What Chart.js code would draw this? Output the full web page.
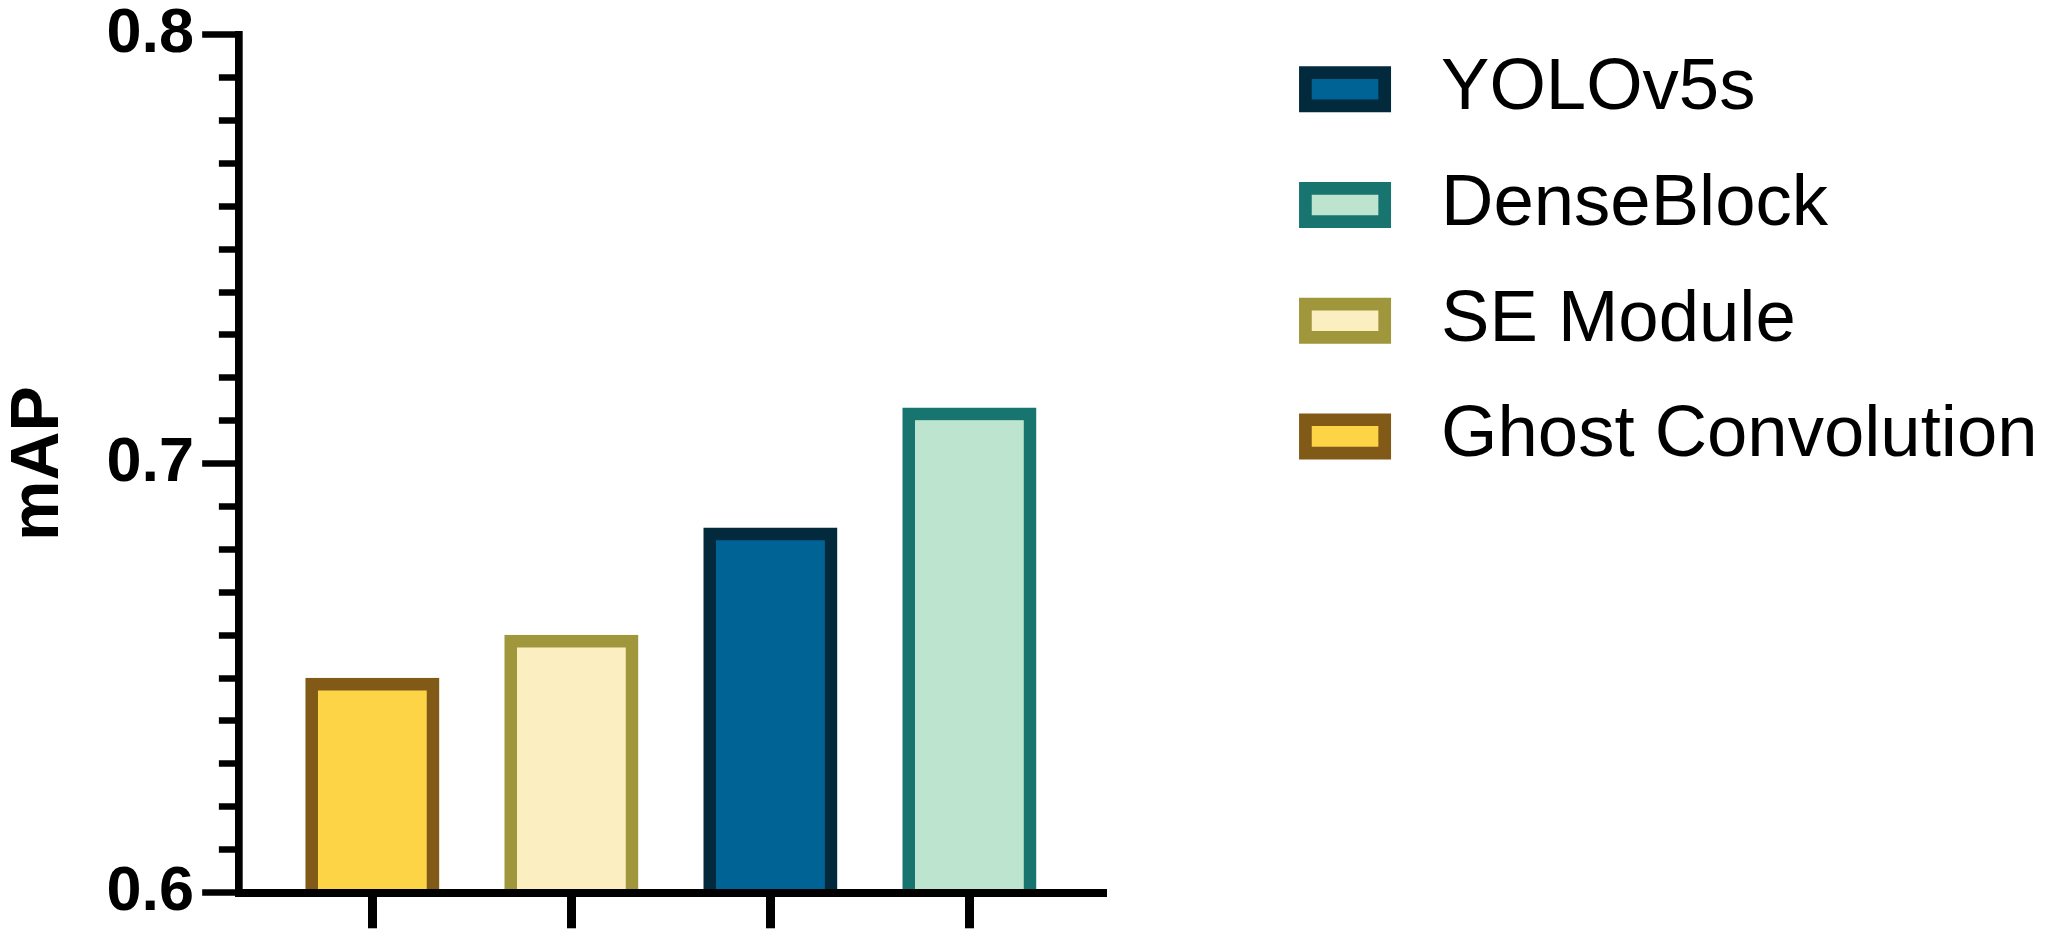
<!DOCTYPE html>
<html>
<head>
<meta charset="utf-8">
<script src="https://cdn.jsdelivr.net/npm/chart.js@4.4.1/dist/chart.umd.min.js"></script>
<style>
  html, body { margin: 0; padding: 0; background: #fff; }
  canvas { display: block; }
</style>
</head>
<body>
<canvas id="mapChart" width="2046" height="940"></canvas>
<script>
// legend order
const models = ['YOLOv5s', 'DenseBlock', 'SE Module', 'Ghost Convolution']
const mapValues = [0.685, 0.713, 0.660, 0.650]
// left-to-right order of the bars
const barOrder = ['Ghost Convolution', 'SE Module', 'YOLOv5s', 'DenseBlock']
const fillColors = ['#006396', '#BDE4CF', '#FBEFC2', '#FDD446']
const edgeColors = ['#022A3C', '#18746E', '#A0963C', '#815A18']
const yMajorTicks = [0.6, 0.7, 0.8]
const yMinorStep = 0.01

const FONT = "'Liberation Sans', Arial, sans-serif"
const BORDER = 12.7

const isMajor = v => yMajorTicks.some(m => Math.abs(m - v) < 1e-6)

var yTicks = []
const yMin = yMajorTicks[0], yMax = yMajorTicks[yMajorTicks.length - 1]
const nSteps = Math.round((yMax - yMin) / yMinorStep)
for (let i = 0; i <= nSteps; i++) {
    yTicks.push(Math.round((yMin + i * yMinorStep) * 1000) / 1000)
}

var datasets = models.map((name, i) => ({
    label: name,
    data: [{ x: barOrder.indexOf(name), y: mapValues[i] }],
    backgroundColor: fillColors[i],
    borderColor: edgeColors[i],
    borderWidth: BORDER,
    barThickness: 133.5,
    grouped: false,
    yAxisID: 'y'
}))

var ctx = document.getElementById('mapChart')
var chart = new Chart(ctx, {
    type: 'bar',
    data: { datasets: datasets },
    options: {
        responsive: false,
        animation: false,
        devicePixelRatio: 1,
        layout: { padding: { left: 1.5, top: 9.85, right: 3.8, bottom: 11.7 } },
        plugins: {
            tooltip: { enabled: false },
            legend: {
                position: 'right',
                align: 'start',
                maxWidth: 780,
                labels: {
                    boxWidth: 79.3,
                    boxHeight: 33.3,
                    padding: 43.2,
                    color: '#000',
                    font: { family: FONT, size: 72.5 },
                    generateLabels: c => Chart.defaults.plugins.legend.labels.generateLabels(c)
                        .map(item => Object.assign(item, { text: ' ' + item.text }))
                }
            }
        },
        scales: {
            x: {
                type: 'linear',
                position: 'bottom',
                offset: false,
                min: -0.6692,
                max: 3.690,
                afterBuildTicks: s => { s.ticks = barOrder.map((_, i) => ({ value: i })) },
                ticks: { display: false },
                grid: {
                    offset: false,
                    drawOnChartArea: false,
                    drawTicks: true,
                    tickLength: 35.8,
                    tickWidth: 9,
                    tickColor: '#000'
                },
                border: { display: true, color: '#000', width: 8, z: 1 }
            },
            y: {
                type: 'linear',
                position: 'left',
                min: yMin,
                max: yMax,
                afterBuildTicks: s => { s.ticks = yTicks.map(v => ({ value: v })) },
                ticks: {
                    autoSkip: false,
                    padding: 8.2,
                    color: '#000',
                    font: { family: FONT, size: 63, weight: 'bold', lineHeight: 0.841 },
                    callback: v => isMajor(v) ? v.toFixed(1) : ''
                },
                grid: {
                    drawOnChartArea: false,
                    tickLength: 37,
                    tickWidth: 6.7,
                    tickColor: '#000',
                    tickBorderDash: c => (c.tick && !isMajor(c.tick.value)) ? [0, 16.7, 40] : []
                },
                border: { color: '#000', width: 7.7, z: 1 },
                title: {
                    display: true,
                    text: 'mAP',
                    color: '#000',
                    font: { family: FONT, size: 68, weight: 'bold', lineHeight: 1 },
                    padding: { top: 4, bottom: 24.7 }
                }
            },
            // empty axis that only keeps the gap between plot and legend
            spacer: {
                type: 'linear',
                position: 'right',
                display: true,
                grid: { display: false },
                ticks: { display: false },
                border: { display: false },
                afterFit: s => { s.width = 155.5 }
            }
        }
    }
})
</script>
</body>
</html>
